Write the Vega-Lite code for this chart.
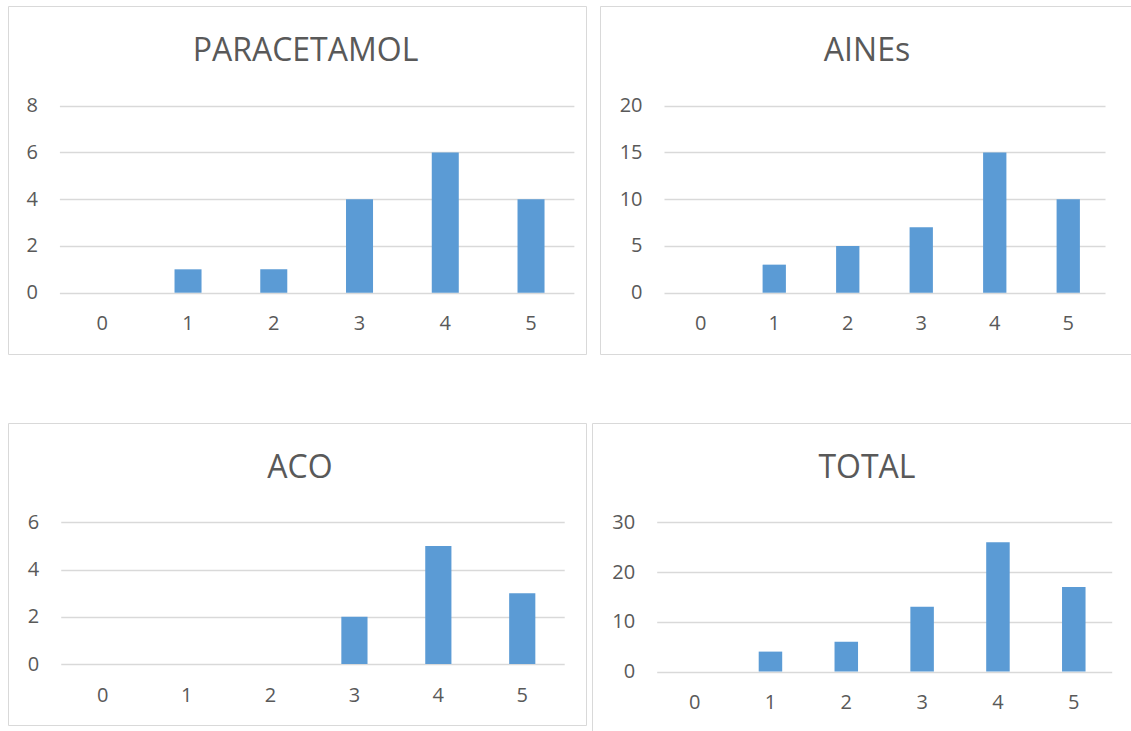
{
  "$schema": "https://vega.github.io/schema/vega-lite/v6.json",
  "padding": {"left": 7, "top": 5, "right": 0, "bottom": 0},
  "background": "white",
  "spacing": 67,
  "datasets": {
    "d": [
      {"panel": "PARACETAMOL", "score": 0, "count": 0},
      {"panel": "PARACETAMOL", "score": 1, "count": 1},
      {"panel": "PARACETAMOL", "score": 2, "count": 1},
      {"panel": "PARACETAMOL", "score": 3, "count": 4},
      {"panel": "PARACETAMOL", "score": 4, "count": 6},
      {"panel": "PARACETAMOL", "score": 5, "count": 4},
      {"panel": "AINEs", "score": 0, "count": 0},
      {"panel": "AINEs", "score": 1, "count": 3},
      {"panel": "AINEs", "score": 2, "count": 5},
      {"panel": "AINEs", "score": 3, "count": 7},
      {"panel": "AINEs", "score": 4, "count": 15},
      {"panel": "AINEs", "score": 5, "count": 10},
      {"panel": "ACO", "score": 0, "count": 0},
      {"panel": "ACO", "score": 1, "count": 0},
      {"panel": "ACO", "score": 2, "count": 0},
      {"panel": "ACO", "score": 3, "count": 2},
      {"panel": "ACO", "score": 4, "count": 5},
      {"panel": "ACO", "score": 5, "count": 3},
      {"panel": "TOTAL", "score": 0, "count": 0},
      {"panel": "TOTAL", "score": 1, "count": 4},
      {"panel": "TOTAL", "score": 2, "count": 6},
      {"panel": "TOTAL", "score": 3, "count": 13},
      {"panel": "TOTAL", "score": 4, "count": 26},
      {"panel": "TOTAL", "score": 5, "count": 17}
    ]
  },
  "config": {
    "view": {"stroke": "#d9d9d9", "strokeWidth": 1},
    "font": "Open Sans",
    "axis": {
      "labelFont": "Open Sans",
      "labelFontSize": 20,
      "labelColor": "#595959",
      "ticks": false,
      "tickSize": 0,
      "domain": false,
      "title": null,
      "gridColor": "#d9d9d9",
      "gridWidth": 1.3
    },
    "axisX": {"grid": false, "labelAngle": 0, "labelPadding": 37, "labelBaseline": "alphabetic"},
    "axisY": {"grid": true, "labelPadding": 22},
    "title": {
      "font": "Open Sans",
      "fontSize": 32,
      "fontWeight": "normal",
      "color": "#595959",
      "anchor": "middle",
      "frame": "group",
      "baseline": "alphabetic",
      "offset": -62
    },
    "bar": {"color": "#5b9bd5"}
  },
  "vconcat": [
    {
      "spacing": 12,
      "hconcat": [
        {
          "data": {"name": "d"},
          "transform": [{"filter": "datum.panel === 'PARACETAMOL'"}],
          "title": {"text": "PARACETAMOL", "dx": 8.5},
          "width": 578,
          "height": 348,
          "mark": {"type": "bar"},
          "encoding": {
            "x": {"field": "score", "type": "ordinal",
                  "scale": {"range": [51.4, 565.9], "paddingInner": 0.685, "paddingOuter": 0.3425},
                  "axis": {"offset": -61.3}},
            "y": {"field": "count", "type": "quantitative",
                  "scale": {"domain": [0, 8], "range": [286.7, 99.7], "nice": false},
                  "axis": {"offset": -51.4, "values": [0, 2, 4, 6, 8]}}
          }
        },
        {
          "data": {"name": "d"},
          "transform": [{"filter": "datum.panel === 'AINEs'"}],
          "title": {"text": "AINEs", "dx": -3},
          "width": 540,
          "height": 348,
          "mark": {"type": "bar"},
          "encoding": {
            "x": {"field": "score", "type": "ordinal",
                  "scale": {"range": [64, 505], "paddingInner": 0.683, "paddingOuter": 0.3415},
                  "axis": {"offset": -61.3}},
            "y": {"field": "count", "type": "quantitative",
                  "scale": {"domain": [0, 20], "range": [286.7, 99.7], "nice": false},
                  "axis": {"offset": -64, "values": [0, 5, 10, 15, 20]}}
          }
        }
      ]
    },
    {
      "spacing": 4,
      "hconcat": [
        {
          "data": {"name": "d"},
          "transform": [{"filter": "datum.panel === 'ACO'"}],
          "title": {"text": "ACO", "dx": 3},
          "width": 578,
          "height": 302,
          "mark": {"type": "bar"},
          "encoding": {
            "x": {"field": "score", "type": "ordinal",
                  "scale": {"range": [52.75, 556.2], "paddingInner": 0.688, "paddingOuter": 0.344},
                  "axis": {"offset": -61}},
            "y": {"field": "count", "type": "quantitative",
                  "scale": {"domain": [0, 6], "range": [241, 99.3], "nice": false},
                  "axis": {"offset": -52.75, "values": [0, 2, 4, 6]}}
          }
        },
        {
          "data": {"name": "d"},
          "transform": [{"filter": "datum.panel === 'TOTAL'"}],
          "title": {"text": "TOTAL", "dx": 1.5},
          "width": 547,
          "height": 320,
          "mark": {"type": "bar"},
          "encoding": {
            "x": {"field": "score", "type": "ordinal",
                  "scale": {"range": [64.7, 519.7], "paddingInner": 0.69, "paddingOuter": 0.345},
                  "axis": {"offset": -71.5}},
            "y": {"field": "count", "type": "quantitative",
                  "scale": {"domain": [0, 30], "range": [248.5, 99.3], "nice": false},
                  "axis": {"offset": -64.7, "values": [0, 10, 20, 30]}}
          }
        }
      ]
    }
  ]
}
